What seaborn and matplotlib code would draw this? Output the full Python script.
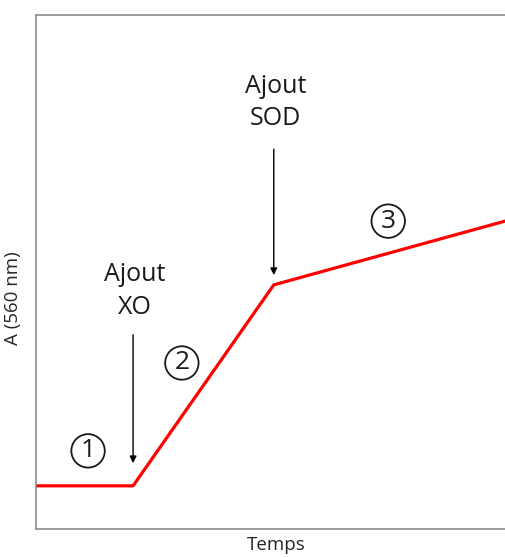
import pandas as pd
import matplotlib.pyplot as plt
import seaborn as sns

sns.set_style("white")
plt.rcParams['font.family'] = ['Open Sans', 'DejaVu Sans']

# data: the red trace (time in arbitrary units, absorbance in arbitrary units)
temps = [0, 20.7, 50.7, 100]
absorbance = [8.4, 8.4, 47.5, 59.9]

# annotations
ajouts = ["Ajout\nXO", "Ajout\nSOD"]
ajout_x = [20.7, 50.7]
phases = ["1", "2", "3"]
phase_x = [11.1, 31.1, 75.1]
phase_y = [15.2, 32.3, 59.9]

df = pd.DataFrame({"Temps": temps, "A": absorbance})

fig = plt.figure(figsize=(5.05, 5.57), dpi=100)
ax = fig.add_axes([0.0713, 0.0503, 0.9287, 0.9227])
sns.lineplot(data=df, x="Temps", y="A", color="red", linewidth=2.3, ax=ax)

ax.set_xlim(0, 100)
ax.set_ylim(0, 100)
ax.set_xticks([])
ax.set_yticks([])
ax.set_xlabel("Temps", fontsize=13.5)
ax.set_ylabel("A (560 nm)", fontsize=13.5)
ax.xaxis.set_label_coords(0.512, -0.014)
ax.yaxis.set_label_coords(-0.03, 0.45)

for side in ["left", "bottom", "top"]:
    ax.spines[side].set_color("#8c8c8c")
    ax.spines[side].set_linewidth(1.2)
ax.spines["right"].set_visible(False)

# arrows with labels above
arrow_top = [37.8, 73.9]
arrow_bot = [12.8, 49.4]
text_y = [46.3, 83.0]
for lab, x, yt, y0, y1 in zip(ajouts, ajout_x, text_y, arrow_top, arrow_bot):
    ax.annotate("", xy=(x, y1), xytext=(x, y0),
                arrowprops=dict(arrowstyle="-|>", color="black", lw=1.0,
                                mutation_scale=10, shrinkA=0, shrinkB=0))
    ax.text(x + 0.3, yt, lab, ha="center", va="center", fontsize=18,
            linespacing=1.38, color="#1a1a1a")

for p, x, y in zip(phases, phase_x, phase_y):
    ax.text(x, y, p, ha="center", va="center", fontsize=19, color="#1a1a1a",
            bbox=dict(boxstyle="circle,pad=0.16", fc="none", ec="#1a1a1a", lw=1.3))

fig.savefig("out.png", dpi=100)
